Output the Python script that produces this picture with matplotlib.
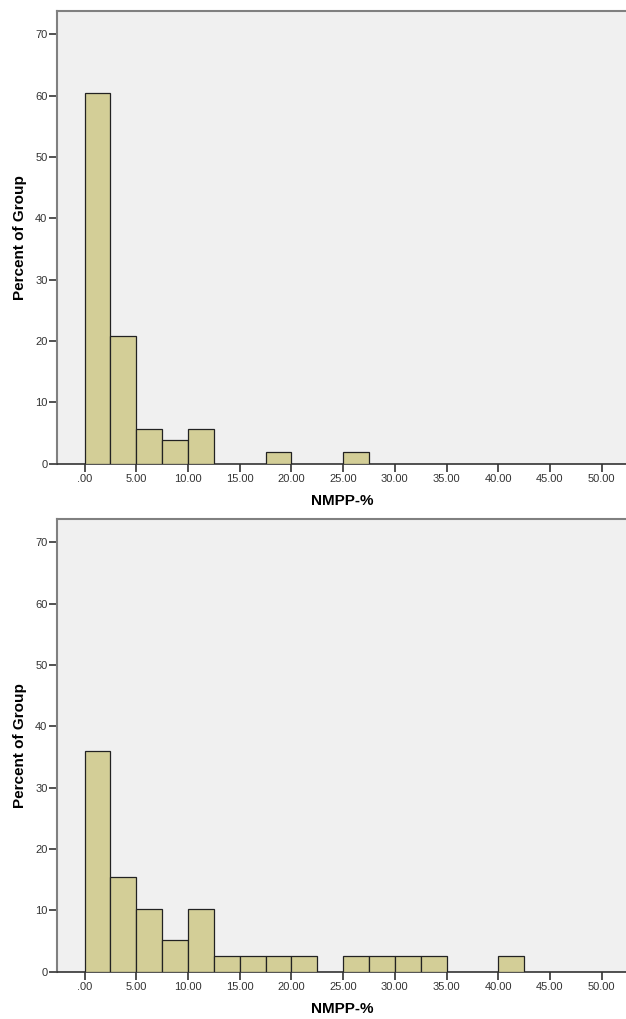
import matplotlib
matplotlib.use("Agg")
import matplotlib.pyplot as plt
import numpy as np

plt.rcParams['font.family'] = ['Liberation Sans', 'DejaVu Sans']

bin_edges = [0.0, 2.5, 5.0, 7.5, 10.0, 12.5, 15.0, 17.5, 20.0, 22.5, 25.0,
             27.5, 30.0, 32.5, 35.0, 37.5, 40.0, 42.5]
# percent of group per bin
top_pct = [60.38, 20.75, 5.66, 3.77, 5.66, 0, 0, 1.89, 0, 0, 1.89,
           0, 0, 0, 0, 0, 0]
bottom_pct = [35.90, 15.38, 10.26, 5.13, 10.26, 2.56, 2.56, 2.56, 2.56, 0,
              2.56, 2.56, 2.56, 2.56, 0, 0, 2.56]

xticks = [0, 5, 10, 15, 20, 25, 30, 35, 40, 45, 50]
xticklabels = ['.00', '5.00', '10.00', '15.00', '20.00', '25.00', '30.00',
               '35.00', '40.00', '45.00', '50.00']
yticks = [0, 10, 20, 30, 40, 50, 60, 70]

W, H = 626, 1019
fig = plt.figure(figsize=(W / 100, H / 100), dpi=100)

def px_axes(left, top, right, bottom):
    return fig.add_axes([left / W, 1 - bottom / H, (right - left) / W, (bottom - top) / H])

ax1 = px_axes(56.5, 11, 640, 463.5)
ax2 = px_axes(56.5, 519, 640, 971.5)

for ax, vals in [(ax1, top_pct), (ax2, bottom_pct)]:
    ax.set_facecolor('#f0f0f0')
    edges = np.array(bin_edges)
    v = np.array(vals)
    mask = v > 0
    ax.bar(edges[:-1][mask], v[mask], width=2.5, align='edge',
           color='#d3ce97', edgecolor='#222222', linewidth=0.9, zorder=3)
    ax.set_xlim(-2.72, (640 - 84.7) / 10.34)
    ax.set_ylim(0, 73.8)
    ax.set_xticks(xticks)
    ax.set_xticklabels(xticklabels)
    ax.set_yticks(yticks)
    ax.tick_params(axis='both', labelsize=8, colors='#333333', length=5.5,
                   width=1.2, labelcolor='#333333')
    ax.tick_params(axis='x', pad=2)
    ax.tick_params(axis='y', pad=1)
    for s in ['left', 'top']:
        ax.spines[s].set_color('#808080')
        ax.spines[s].set_linewidth(1.5)
    ax.spines['bottom'].set_color('#333333')
    ax.spines['bottom'].set_linewidth(1.2)
    ax.spines['right'].set_visible(False)
    ax.set_xlabel('NMPP-%', fontsize=11, fontweight='bold')
    ax.xaxis.set_label_coords((342.5 - 56.5) / (640 - 56.5), -(494 - 463.5) / 452.5)
    ax.set_ylabel('Percent of Group', fontsize=11, fontweight='bold', labelpad=6)

fig.savefig('out.png', dpi=100)
